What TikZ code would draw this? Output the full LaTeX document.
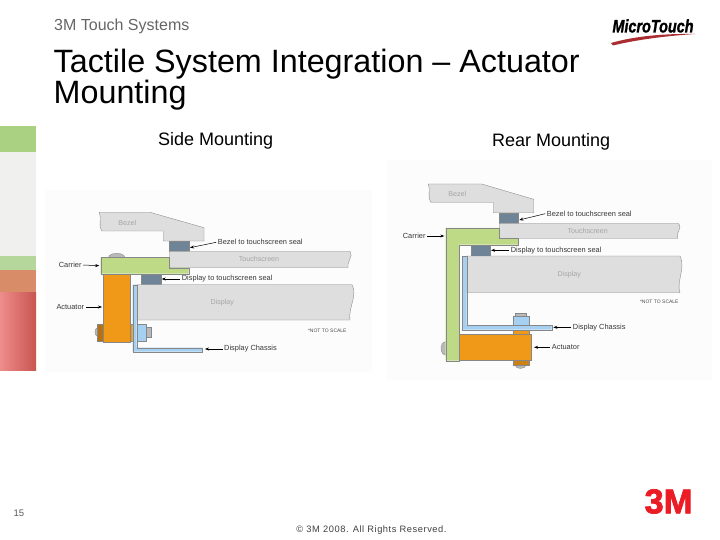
\documentclass[tikz,border=0pt]{standalone}
\usepackage{fontspec}
\setmainfont{Liberation Sans}
\newfontfamily\logofont[FakeBold=2]{Liberation Sans Bold}
\newfontfamily\touchfont[FakeBold=1.5]{Liberation Sans Bold Italic}
\usetikzlibrary{arrows.meta,positioning}
\definecolor{mygray}{RGB}{222,222,222}
\definecolor{myedge}{RGB}{135,135,135}
\definecolor{mygreen}{RGB}{190,218,135}
\definecolor{myorange}{RGB}{240,152,24}
\definecolor{myblue}{RGB}{165,208,242}
\definecolor{myseal}{RGB}{112,132,152}
\definecolor{myred}{RGB}{235,28,36}
\definecolor{myswoosh}{RGB}{170,45,50}
\definecolor{mytext}{RGB}{55,55,55}
\definecolor{mypale}{RGB}{165,165,165}
\definecolor{stripgreen}{RGB}{170,208,130}
\definecolor{stripgray}{RGB}{240,240,238}
\definecolor{stripleaf}{RGB}{182,215,155}
\definecolor{striprust}{RGB}{217,140,104}
\definecolor{strippink}{RGB}{238,140,140}
\definecolor{stripred}{RGB}{200,85,80}
\tikzset{
  part/.style={fill=#1,draw=myedge,line width=0.35pt},
  bolt/.style={fill=gray!55,draw=myedge,line width=0.35pt},
  callout/.style={font=\fontsize{7.4}{8}\selectfont,text=mytext,anchor=west,inner sep=1.5pt},
  partname/.style={font=\fontsize{7.1}{8}\selectfont,text=mypale,inner sep=0pt},
  leader/.style={-{Stealth[length=4pt,width=3pt]},black,line width=0.5pt},
  heading/.style={font=\fontsize{18}{20}\selectfont,text=black,anchor=west,inner sep=0pt}
}
\begin{document}
\begin{tikzpicture}[x=1pt,y=-1pt]
\useasboundingbox (0,0) rectangle (720,540);
\fill[white] (0,0) rectangle (720,540);
% photo strip
\fill[stripgreen] (0,126) rectangle (36,152);
\fill[stripgray] (0,152) rectangle (36,256);
\fill[stripleaf] (0,256) rectangle (36,270);
\fill[striprust] (0,270) rectangle (36,292);
\shade[left color=strippink,right color=stripred] (0,292) rectangle (36,370);
% titles
\node[font=\fontsize{16}{18}\selectfont,text=black!60,anchor=west,inner sep=0pt] (header) at (54,26) {3M Touch Systems};
\node[font=\fontsize{32.3}{30.5}\selectfont,text=black,anchor=north west,align=left,inner sep=0pt] (title) at (53.5,49) {Tactile System Integration -- Actuator\\Mounting};
\node[heading] (sidehead) at (158,140.5) {Side Mounting};
\node[heading] (rearhead) at (492,141.5) {Rear Mounting};
% logos
\fill[myswoosh] (611,43) .. controls (635,36) and (665,33.5) .. (695,34) .. controls (665,36) and (635,40) .. (613,45.5) -- cycle;
\node[font=\fontsize{18}{18}\selectfont\touchfont,text=black,inner sep=0pt] (microtouch) at (653,26) {\scalebox{0.8}[1]{MicroTouch}};
\node[font=\fontsize{34.5}{34}\selectfont\logofont,text=myred,inner sep=0pt] (logo) at (668.5,501.5) {3M};
% footer
\node[font=\fontsize{9.5}{10}\selectfont,text=black!65,inner sep=0pt] (pageno) at (19,513) {15};
\node[font=\fontsize{9.3}{10}\selectfont,text=black!75,inner sep=0pt] (copyright) at (371.5,530) {\addfontfeature{LetterSpace=6}© 3M 2008.  All Rights Reserved.};
% side mounting
\fill[black!1] (45,190) rectangle (372,372);
\draw[part=mygray] (99.3,212.3) -- (150,212.3) -- (204,227.7) -- (204,241) -- (163.3,241) -- (163.3,231) -- (101.7,231) .. controls (98,226) and (102,219) .. cycle;
\draw[part=myseal] (169.3,241) rectangle (188.7,251.3);
\draw[part=mygray] (169.3,251.3) -- (350,251.3) .. controls (354,256) and (346,263) .. (348,267.7) -- (169.3,267.7) -- cycle;
\draw[bolt] (108.7,257.3) arc[start angle=180,end angle=0,x radius=8,y radius=-4];
\draw[part=mygreen] (100.7,257.3) -- (169.3,257.3) -- (169.3,267.7) -- (188.7,267.7) -- (188.7,273.7) -- (100.7,273.7) -- cycle;
\draw[part=myseal] (141.3,273.7) rectangle (160.7,284.7);
\draw[part=mygray] (136.7,284.7) -- (352,284.7) .. controls (358,295) and (348,308) .. (350,320) -- (136.7,320) -- cycle;
\draw[part=myorange!75!black] (97,324) rectangle (103.3,340.7);
\draw[bolt] (97,328) arc[start angle=90,end angle=270,x radius=2,y radius=-4];
\draw[part=myorange] (130,324) rectangle (132.7,340.7);
\draw[part=myorange] (103.3,273.7) rectangle (130,341.7);
\draw[part=myblue] (136.7,324) rectangle (146,340.7);
\draw[bolt] (146,326.7) rectangle (150.7,336.7);
\draw[part=myblue] (132.7,284.7) -- (136.7,284.7) -- (136.7,347.7) -- (202.3,347.7) -- (202.3,351.7) -- (132.7,351.7) -- cycle;
\node[partname] (bezelA) at (127.3,222.7) {Bezel};
\node[partname] (touchA) at (259,259.3) {Touchscreen};
\node[partname] (displayA) at (222.3,302.7) {Display};
\node[partname,font=\fontsize{5}{6}\selectfont,text=black!70] (scaleA) at (327.3,330.7) {*NOT TO SCALE};
\coordinate (bezelsealA) at (190,247.7);
\coordinate (dispsealA) at (161.7,279);
\coordinate (carrierA) at (99.3,265.7);
\coordinate (actuatorA) at (102,307);
\coordinate (chassisA) at (205,349);
\node[callout] (lblbezelA) at (216.2,242.3) {Bezel to touchscreen seal};
\node[callout] (lbldispA) at (180.2,279) {Display to touchscreen seal};
\node[callout,anchor=east] (lblcarrierA) at (83.2,265) {Carrier};
\node[callout,anchor=east] (lblactuatorA) at (85.8,307) {Actuator};
\node[callout] (lblchassisA) at (222.5,349) {Display Chassis};
\draw[leader] (lblbezelA.west) -- (bezelsealA);
\draw[leader] (lbldispA.west) -- (dispsealA);
\draw[leader] (lblcarrierA.east) -- (carrierA);
\draw[leader] (lblactuatorA.east) -- (actuatorA);
\draw[leader] (lblchassisA.west) -- (chassisA);
% rear mounting
\fill[black!1] (387,160) rectangle (712,380);
\draw[part=mygray] (428.3,184) -- (481.7,184) -- (533.7,199.3) -- (533.7,212.7) -- (493.3,212.7) -- (493.3,202.3) -- (430.7,202.3) .. controls (427,197) and (431,190) .. cycle;
\draw[part=myseal] (499.3,212.7) rectangle (518,223.3);
\draw[part=mygray] (499.3,223.3) -- (678,223.3) .. controls (684,228) and (674,234) .. (678,238.3) -- (499.3,238.3) -- cycle;
\draw[bolt] (445.7,341.7) arc[start angle=90,end angle=270,x radius=4.7,y radius=-6.7];
\draw[part=mygreen] (445.7,228) -- (499.3,228) -- (499.3,238.3) -- (518,238.3) -- (518,244.7) -- (459,244.7) -- (459,360.7) -- (445.7,360.7) -- cycle;
\draw[part=myseal] (471.3,244.7) rectangle (489.7,256);
\draw[part=mygray] (466.7,256) -- (680,256) .. controls (686,268) and (676,282) .. (680,292.7) -- (466.7,292.7) -- cycle;
\draw[bolt] (515,313.3) rectangle (525.7,316.3);
\draw[part=myblue] (512.7,316.3) rectangle (529,325.3);
\draw[part=myorange] (512.7,329.7) rectangle (529,333.7);
\draw[bolt] (515,365) arc[start angle=180,end angle=360,x radius=5.5,y radius=-3.5];
\draw[part=myorange!85!black] (512.7,360) rectangle (529,365);
\draw[part=myorange] (459,333.7) rectangle (530.7,360);
\draw[part=myblue] (462.3,256) -- (466.7,256) -- (466.7,325.3) -- (551.7,325.3) -- (551.7,329.7) -- (462.3,329.7) -- cycle;
\node[partname] (bezelB) at (457.3,194.3) {Bezel};
\node[partname] (touchB) at (587.7,230.7) {Touchscreen};
\node[partname] (displayB) at (569.3,274.3) {Display};
\node[partname,font=\fontsize{5}{6}\selectfont,text=black!70] (scaleB) at (659.3,302) {*NOT TO SCALE};
\coordinate (bezelsealB) at (519.3,220);
\coordinate (dispsealB) at (491,250.3);
\coordinate (carrierB) at (444.3,236);
\coordinate (chassisB) at (553.3,327.3);
\coordinate (actuatorB) at (534,347.3);
\node[callout] (lblbezelB) at (545.2,213.7) {Bezel to touchscreen seal};
\node[callout] (lbldispB) at (509.2,250.3) {Display to touchscreen seal};
\node[callout,anchor=east] (lblcarrierB) at (427.2,236) {Carrier};
\node[callout] (lblchassisB) at (571.2,327.3) {Display Chassis};
\node[callout] (lblactuatorB) at (550.2,347.3) {Actuator};
\draw[leader] (lblbezelB.west) -- (bezelsealB);
\draw[leader] (lbldispB.west) -- (dispsealB);
\draw[leader] (lblcarrierB.east) -- (carrierB);
\draw[leader] (lblchassisB.west) -- (chassisB);
\draw[leader] (lblactuatorB.west) -- (actuatorB);
\end{tikzpicture}
\end{document}
